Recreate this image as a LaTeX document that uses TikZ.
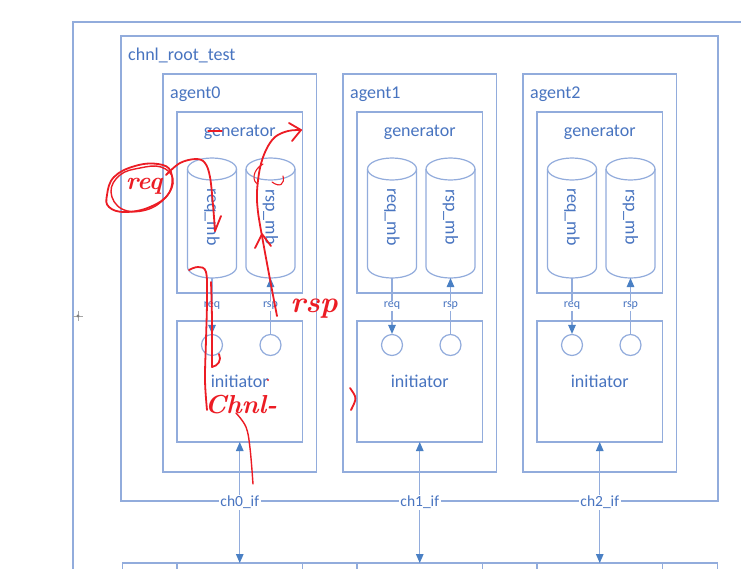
\documentclass[tikz,border=0pt]{standalone}
\usepackage{fontspec}
\setsansfont{Carlito}
\usetikzlibrary{arrows.meta}
\definecolor{lineblue}{RGB}{146,172,220}
\definecolor{txtblue}{RGB}{72,116,192}
\definecolor{tipblue}{RGB}{74,128,196}
\definecolor{inkred}{RGB}{236,28,36}
\tikzset{
  bluebox/.style={draw=lineblue, line width=1.2pt, inner sep=0pt, outer sep=0pt, anchor=north west, rectangle},
  bigtxt/.style={text=txtblue, font=\sffamily\fontsize{18}{20}\selectfont, inner sep=0pt},
  chtxt/.style={text=txtblue, font=\sffamily\fontsize{15.5}{17}\selectfont, fill=white, inner sep=1.5pt},
  smalltxt/.style={text=txtblue, font=\sffamily\fontsize{12}{13}\selectfont, fill=white, inner sep=1pt},
  bluelink/.style={draw=lineblue, line width=1.2pt},
  arrowend/.style={-{Triangle[length=9pt,width=7.5pt,color=tipblue]}},
  arrowboth/.style={{Triangle[length=9pt,width=7.5pt,color=tipblue]}-{Triangle[length=9pt,width=7.5pt,color=tipblue]}},
  portc/.style={circle, draw=lineblue, line width=1.2pt, minimum size=21pt, inner sep=0pt},
  redink/.style={draw=inkred, line width=1.8pt, line cap=round, line join=round},
  handtxt/.style={text=inkred, font=\rmfamily\bfseries\itshape\fontsize{22}{24}\selectfont, inner sep=0pt},
}
\begin{document}
\begin{tikzpicture}[x=1pt,y=-1pt]
\useasboundingbox (0,0) rectangle (741,568);
\clip (0,0) rectangle (741,568);
\fill[white] (0,0) rectangle (741,568);
% frames
\node[bluebox, minimum width=720pt, minimum height=600pt] (outer) at (73,22) {};
\node[bluebox, minimum width=597pt, minimum height=465pt] (root) at (121,36) {};
\node[bigtxt, anchor=base west] (lroot) at (128,60) {chnl\_root\_test};
% bottom row
\node[bluebox, minimum width=595pt, minimum height=40pt] (bot) at (122.7,563) {};
\foreach \i/\L in {0/177,1/357,2/537}{
  \node[bluebox, minimum width=153.5pt, minimum height=398pt] (agent\i) at (\L-14,74) {};
  \node[bigtxt, anchor=base west] (lagent\i) at (\L-7,98) {agent\i};
  \node[bluebox, minimum width=125.5pt, minimum height=181pt] (gen\i) at (\L,112) {};
  \node[bigtxt, anchor=base] (lgen\i) at (\L+62.75,136) {generator};
  \node[bluebox, minimum width=125.5pt, minimum height=121pt] (init\i) at (\L,321) {};
  \node[bigtxt, anchor=base] (linit\i) at (\L+62.75,387) {initiator};
  \node[bluebox, minimum width=125.5pt, minimum height=40pt] (bot\i) at (\L,563) {};
  \foreach \c/\nm in {\L+35/req,\L+93.5/rsp}{
    \pgfmathsetmacro\cx{\c}
    \draw[bluelink] (\cx-24.5,169) -- (\cx-24.5,267) arc[start angle=180,end angle=0,x radius=24.5,y radius=11] -- (\cx+24.5,169);
    \draw[bluelink] (\cx,169) ellipse[x radius=24.5,y radius=11];
    \node[bigtxt, rotate=-90] (\nm mb\i) at (\cx,217) {\nm\_mb};
    \coordinate (\nm bot\i) at (\cx,278);
    \node[portc] (\nm port\i) at (\cx,345) {};
  }
  \draw[bluelink, arrowend] (reqbot\i) -- node[smalltxt]{req} (reqport\i);
  \draw[bluelink, arrowend] (rspport\i) -- node[smalltxt]{rsp} (rspbot\i);
  \draw[bluelink, arrowboth] (init\i) -- node[chtxt]{ch\i\_if} (bot\i);
}
% cursor mark on outer frame
\draw[gray!70, line width=0.8pt] (73,316) -- (83,316) (78,311) -- (78,321);
\fill[gray] (78,316) circle (1.6);
% red hand annotations
\draw[redink] plot[smooth cycle, tension=0.7] coordinates {(107,195) (114,177) (135,166) (158,164) (171,172) (169,193) (150,207) (125,212) (109,207)};
\draw[redink, line width=1.4pt] plot[smooth cycle, tension=0.7] coordinates {(111,192) (120,175) (140,168) (161,167) (173,179) (166,197) (146,210) (122,209)};
\node[handtxt, font=\rmfamily\bfseries\itshape\fontsize{25}{27}\selectfont] (hreq) at (144,186) {req};
\draw[redink] plot[smooth, tension=0.6] coordinates {(166,175) (180,163) (196,159) (205,163) (210,177) (213,205) (215,231)};
\draw[redink] (215,231) -- (221,216);
\draw[redink] plot[smooth, tension=0.6] coordinates {(189,270) (198,267) (206,272) (207,300) (206,340) (205,380) (207,410)};
\draw[redink] plot[smooth, tension=0.6] coordinates {(211,282) (212,320) (212,367)};
\draw[redink] (212,367) .. controls (218,366) and (222,360) .. (219,354);
\draw[redink, line width=1.3pt] (208,131) -- (222,131);
\node[handtxt, font=\rmfamily\bfseries\itshape\fontsize{26}{28}\selectfont] (hchnl) at (241,405) {Chnl-};
\draw[redink, line width=1.4pt] plot[smooth, tension=0.6] coordinates {(236,413) (246,427) (250,448) (253,484)};
\fill[inkred] (268,380) circle (1.2);
\node[handtxt, font=\rmfamily\bfseries\itshape\fontsize{30}{32}\selectfont] (hrsp) at (314,309) {rsp};
\draw[redink] plot[smooth, tension=0.6] coordinates {(277,316) (272,290) (266,258) (262,236)};
\draw[redink] (255,248) -- (262,234) -- (271,246);
\draw[redink] plot[smooth, tension=0.6] coordinates {(262,236) (258,212) (257,192) (260,168) (266,150) (275,137) (288,131) (301,130)};
\draw[redink] (289,123) -- (301,130) -- (292,141);
\draw[redink, line width=1.1pt] (263,164) .. controls (252,170) and (252,182) .. (258,184);
\draw[redink, line width=1.1pt] (272,182) .. controls (280,188) and (285,184) .. (283,176);
\draw[redink] (350,388) .. controls (357,398) .. (351,410);
\end{tikzpicture}
\end{document}
